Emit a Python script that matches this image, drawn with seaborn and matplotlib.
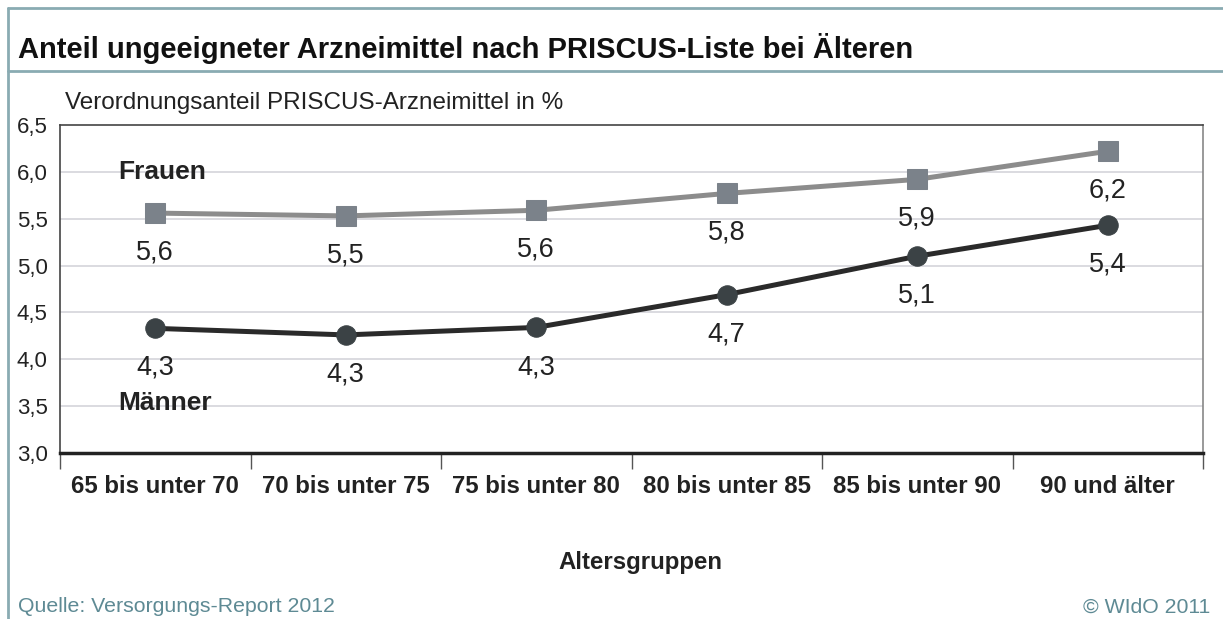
import numpy as np
import pandas as pd
import matplotlib
matplotlib.use("Agg")
import matplotlib.pyplot as plt
from matplotlib.lines import Line2D
import seaborn as sns

sns.set_theme(style="white")
plt.rcParams["font.family"] = ["Liberation Sans", "DejaVu Sans"]

age_groups = ["65 bis unter 70", "70 bis unter 75", "75 bis unter 80",
              "80 bis unter 85", "85 bis unter 90", "90 und älter"]
frauen = [5.56, 5.53, 5.59, 5.77, 5.92, 6.22]
maenner = [4.33, 4.26, 4.34, 4.69, 5.10, 5.43]
y_ticks = [3.0, 3.5, 4.0, 4.5, 5.0, 5.5, 6.0, 6.5]

df = pd.DataFrame({
    "gruppe": age_groups * 2,
    "anteil": frauen + maenner,
    "geschlecht": ["Frauen"] * 6 + ["Männer"] * 6,
})

frame_col = "#8aabb2"
text_col = "#222222"

fig = plt.figure(figsize=(12.23, 6.19), dpi=100)
ax = fig.add_axes([60 / 1223, 1 - 453 / 619, 1143 / 1223, 328 / 619])

# frame around title
fig.add_artist(Line2D([8 / 1223, 1], [1 - 8 / 619] * 2, transform=fig.transFigure, color=frame_col, lw=2))
fig.add_artist(Line2D([8 / 1223, 1], [1 - 71 / 619] * 2, transform=fig.transFigure, color=frame_col, lw=2))
fig.add_artist(Line2D([8 / 1223] * 2, [0, 1 - 8 / 619], transform=fig.transFigure, color=frame_col, lw=2))

for y in y_ticks[1:-1]:
    ax.axhline(y, color="#d4d4da", lw=1.2, zorder=0)

sns.lineplot(data=df[df.geschlecht == "Frauen"], x="gruppe", y="anteil", ax=ax,
             color="#8c8c8c", lw=3.6, marker="s", markersize=15,
             markerfacecolor="#7b828a", markeredgecolor="#7b828a", zorder=3)
sns.lineplot(data=df[df.geschlecht == "Männer"], x="gruppe", y="anteil", ax=ax,
             color="#2a2a2a", lw=3.6, marker="o", markersize=14,
             markerfacecolor="#3b4245", markeredgecolor="#3b4245", zorder=3)

for i, (f, m) in enumerate(zip(frauen, maenner)):
    ax.annotate(f"{f:.1f}".replace(".", ","), (i, f), xytext=(0, -28.5), textcoords="offset points",
                ha="center", va="center", fontsize=19.5, color=text_col)
    ax.annotate(f"{m:.1f}".replace(".", ","), (i, m), xytext=(0, -28.5), textcoords="offset points",
                ha="center", va="center", fontsize=19.5, color=text_col)

ax.text(-0.196, 6.0, "Frauen", fontsize=19, fontweight="bold", color=text_col, va="center")
ax.text(-0.196, 3.53, "Männer", fontsize=19, fontweight="bold", color=text_col, va="center")

ax.set_xlim(-0.5, 5.5)
ax.set_ylim(3.0, 6.5)
ax.set_yticks(y_ticks)
ax.set_yticklabels([f"{v:.1f}".replace(".", ",") for v in y_ticks], fontsize=16, color=text_col)
ax.set_xticks(range(len(age_groups)))
ax.set_xticklabels(age_groups, fontsize=17.3, fontweight="bold", color=text_col)
ax.set_xticks(np.arange(-0.5, 6, 1), minor=True)
ax.tick_params(axis="x", which="major", bottom=False, length=0, pad=16)
ax.tick_params(axis="x", which="minor", bottom=True, length=11.5, width=1, color="#555555",
               direction="out")
ax.tick_params(axis="y", left=False, length=0, pad=9)

for side in ["left", "top"]:
    ax.spines[side].set_color("#444444")
    ax.spines[side].set_linewidth(1.2)
ax.spines["right"].set_color("#888888")
ax.spines["right"].set_linewidth(1.2)
ax.spines["bottom"].set_color("#222222")
ax.spines["bottom"].set_linewidth(2.5)

ax.set_xlabel("")
ax.set_ylabel("")

fig.text(18 / 1223, 1 - 48 / 619, "Anteil ungeeigneter Arzneimittel nach PRISCUS-Liste bei Älteren",
         fontsize=21, fontweight="bold", color="#111111", va="center")
fig.text(65 / 1223, 1 - 103 / 619, "Verordnungsanteil PRISCUS-Arzneimittel in %",
         fontsize=17.5, color=text_col, va="center")
fig.text(640 / 1223, 1 - 562 / 619, "Altersgruppen", fontsize=17.3, fontweight="bold",
         color=text_col, ha="center", va="center")
fig.text(18 / 1223, 1 - 607 / 619, "Quelle: Versorgungs-Report 2012", fontsize=15.3,
         color="#5e8a94", va="center")
fig.text(1210 / 1223, 1 - 607 / 619, "© WIdO 2011", fontsize=15.3, color="#5e8a94",
         ha="right", va="center")

fig.savefig("out.png", dpi=100)
